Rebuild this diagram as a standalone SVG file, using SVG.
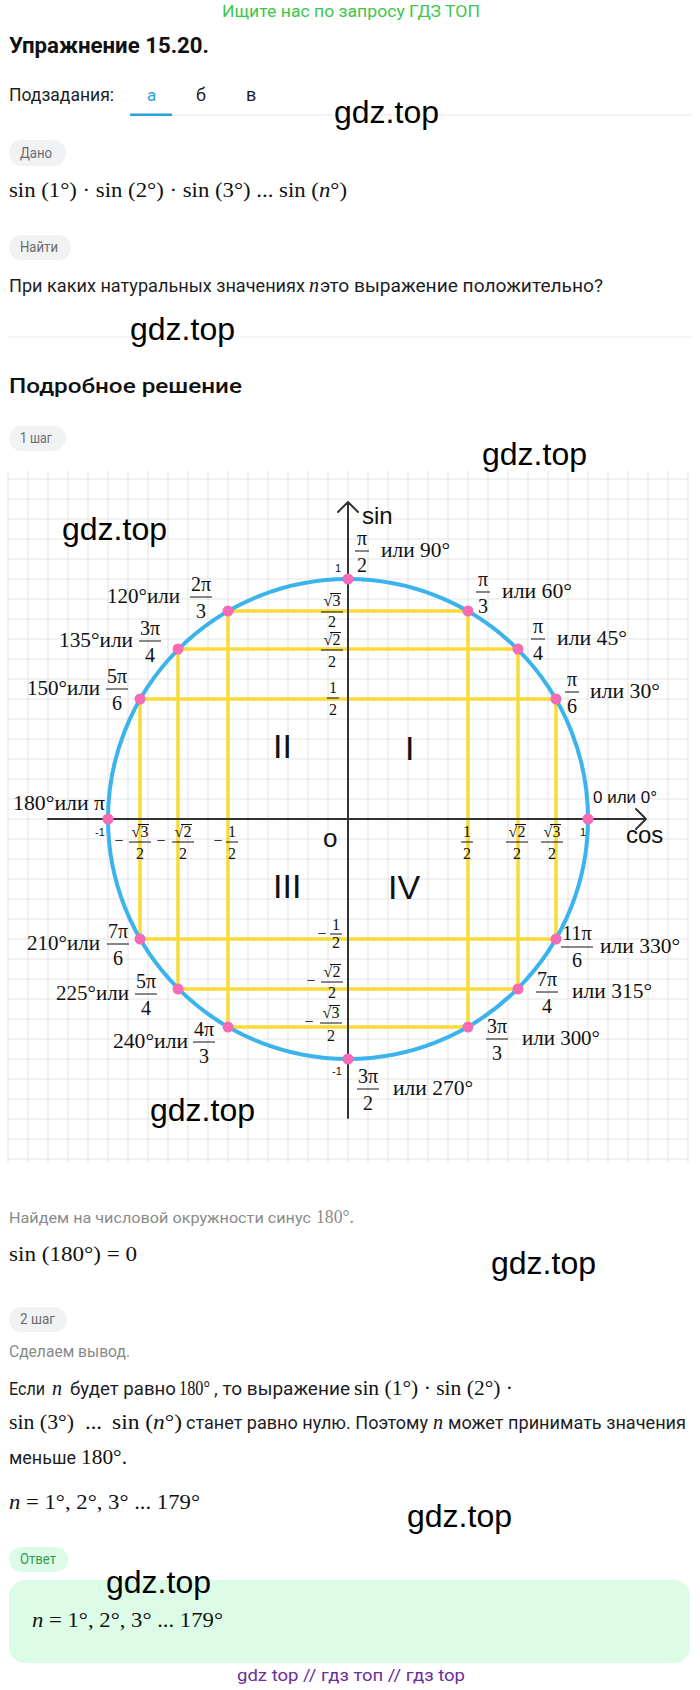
<svg xmlns="http://www.w3.org/2000/svg" width="700" height="1690" viewBox="0 0 700 1690">
<style>
.sans{font-family:Roboto,"Liberation Sans",sans-serif}
.m{font-family:"Liberation Serif","Times New Roman",serif;fill:#111}
.it{font-style:italic}
.txt{fill:#1d1d1f;font-size:18px}
.grey{fill:#8a8a8a;font-size:17px}
.pill{fill:#f1f2f4}
.pt{fill:#6b6b6b;font-size:14px}
.wm{font-family:"Liberation Sans",Arial,sans-serif;font-size:32px;fill:#000}
.grid{stroke:#e6e6e6;stroke-width:1.2;fill:none}
.ax{stroke:#333;stroke-width:2;fill:none;stroke-linecap:round;stroke-linejoin:round}
.yl{stroke:#f8da38;stroke-width:3.5;fill:none}
.dot{fill:#f46bb6}
.bar{stroke:#111;stroke-width:1}
.p20{font-size:20px}
.p16{font-size:16px}
.ls{font-family:"Liberation Sans",Arial,sans-serif;fill:#111}
.c{text-anchor:middle}
</style>

<g id="header">
<text class="sans" x="222" y="17" font-size="16" fill="#3dc74a" textLength="258" lengthAdjust="spacingAndGlyphs">Ищите нас по запросу ГДЗ ТОП</text>
<text class="sans" x="9" y="53" font-size="22" font-weight="700" fill="#111" textLength="200" lengthAdjust="spacingAndGlyphs">Упражнение 15.20.</text>
<text class="sans txt" x="9" y="101" font-size="17" textLength="105" lengthAdjust="spacingAndGlyphs">Подзадания:</text>
<text class="sans" x="147" y="101" font-size="17" fill="#2a9fd8">а</text>
<text class="sans txt" x="196" y="101" font-size="17">б</text>
<text class="sans txt" x="246" y="101" font-size="17">в</text>
<line x1="172" y1="115" x2="692" y2="115" stroke="#e8e8e8" stroke-width="1"/>
<rect x="130" y="113.5" width="42" height="2.5" fill="#2a9fd8"/>
</g>

<g id="given">
<rect class="pill" x="9" y="140" width="57" height="26" rx="13"/>
<text class="sans pt" x="20" y="158" textLength="32" lengthAdjust="spacingAndGlyphs">Дано</text>
<text class="m" x="9" y="197" font-size="21" textLength="338" lengthAdjust="spacingAndGlyphs">sin (1°) · sin (2°) · sin (3°)  ...  sin (<tspan class="it">n</tspan>°)</text>
</g>

<g id="find">
<rect class="pill" x="9" y="235" width="62" height="25" rx="12.5"/>
<text class="sans pt" x="20" y="252" textLength="38" lengthAdjust="spacingAndGlyphs">Найти</text>
<text class="sans txt" x="9" y="292" textLength="296" lengthAdjust="spacingAndGlyphs">При каких натуральных значениях</text>
<text class="m it" x="309" y="292" font-size="20">n</text>
<text class="sans txt" x="320" y="292" textLength="283" lengthAdjust="spacingAndGlyphs">это выражение положительно?</text>
<line x1="9" y1="337" x2="692" y2="337" stroke="#ececec" stroke-width="1"/>
</g>

<g id="solution-head">
<text class="sans" x="9" y="393" font-size="21" font-weight="500" fill="#111" textLength="233" lengthAdjust="spacingAndGlyphs">Подробное решение</text>
<rect class="pill" x="9" y="426" width="57" height="25" rx="12.5"/>
<text class="sans pt" x="20" y="443" textLength="32" lengthAdjust="spacingAndGlyphs">1 шаг</text>
</g>

<g id="grid">
<path class="grid" d="M8 471V1162M28 471V1162M48 471V1162M68 471V1162M88 471V1162M108 471V1162M128 471V1162M148 471V1162M168 471V1162M188 471V1162M208 471V1162M228 471V1162M248 471V1162M268 471V1162M288 471V1162M308 471V1162M328 471V1162M348 471V1162M368 471V1162M388 471V1162M408 471V1162M428 471V1162M448 471V1162M468 471V1162M488 471V1162M508 471V1162M528 471V1162M548 471V1162M568 471V1162M588 471V1162M608 471V1162M628 471V1162M648 471V1162M668 471V1162M688 471V1162M8 479H688M8 499H688M8 519H688M8 539H688M8 559H688M8 579H688M8 599H688M8 619H688M8 639H688M8 659H688M8 679H688M8 699H688M8 719H688M8 739H688M8 759H688M8 779H688M8 799H688M8 819H688M8 839H688M8 859H688M8 879H688M8 899H688M8 919H688M8 939H688M8 959H688M8 979H688M8 999H688M8 1019H688M8 1039H688M8 1059H688M8 1079H688M8 1099H688M8 1119H688M8 1139H688M8 1159H688"/>
</g>

<g id="connectors">
<path class="yl" d="M228 611H468M178 649H518M140 699H556M140 939H556M178 989H518M228 1027H468M140 699V939M178 649V989M228 611V1027M468 611V1027M518 649V989M556 699V939"/>
<path class="ax" d="M48 819H646M636 809L646 819L636 829M348 1118V502M338 512L348 502L358 512"/>
</g>

<g id="circle">
<circle cx="348" cy="819" r="240" fill="none" stroke="#3bb4ed" stroke-width="4"/>
<circle class="dot" cx="588" cy="819" r="5.5"/>
<circle class="dot" cx="556" cy="699" r="5.5"/>
<circle class="dot" cx="518" cy="649" r="5.5"/>
<circle class="dot" cx="468" cy="611" r="5.5"/>
<circle class="dot" cx="348" cy="579" r="5.5"/>
<circle class="dot" cx="228" cy="611" r="5.5"/>
<circle class="dot" cx="178" cy="649" r="5.5"/>
<circle class="dot" cx="140" cy="699" r="5.5"/>
<circle class="dot" cx="108" cy="819" r="5.5"/>
<circle class="dot" cx="140" cy="939" r="5.5"/>
<circle class="dot" cx="178" cy="989" r="5.5"/>
<circle class="dot" cx="228" cy="1027" r="5.5"/>
<circle class="dot" cx="348" cy="1059" r="5.5"/>
<circle class="dot" cx="468" cy="1027" r="5.5"/>
<circle class="dot" cx="518" cy="989" r="5.5"/>
<circle class="dot" cx="556" cy="939" r="5.5"/>
</g>

<g id="axis-labels">
<text class="ls" x="362" y="524" font-size="24">sin</text>
<text class="ls" x="626" y="843" font-size="24">cos</text>
<text class="ls" x="323" y="847" font-size="26">o</text>
<text class="ls" x="593" y="803" font-size="17">0 или 0°</text>
<text class="ls" x="335" y="572" font-size="11">1</text>
<text class="ls" x="95" y="836" font-size="11">-1</text>
<text class="ls" x="580" y="836" font-size="11">1</text>
<text class="ls" x="332" y="1075" font-size="11">-1</text>
<text class="ls" x="273" y="758" font-size="34">II</text>
<text class="ls" x="405" y="760" font-size="34">I</text>
<text class="ls" x="273" y="898" font-size="34">III</text>
<text class="ls" x="388" y="899" font-size="34">IV</text>
</g>

<g id="sin-values" class="m p16">
<text class="c" x="332" y="606">√3</text><line class="bar" x1="330" y1="593.5" x2="341" y2="593.5"/><line class="bar" x1="321" y1="612" x2="343" y2="612"/><text class="c" x="332" y="627">2</text>
<text class="c" x="332" y="645">√2</text><line class="bar" x1="330" y1="632.5" x2="341" y2="632.5"/><line class="bar" x1="321" y1="650" x2="343" y2="650"/><text class="c" x="332" y="667">2</text>
<text class="c" x="333" y="693">1</text><line class="bar" x1="327" y1="698" x2="339" y2="698"/><text class="c" x="333" y="715">2</text>
<text class="c" x="322" y="939">−</text><text class="c" x="336" y="930">1</text><line class="bar" x1="330" y1="934" x2="342" y2="934"/><text class="c" x="336" y="948">2</text>
<text class="c" x="311" y="986">−</text><text class="c" x="332" y="977">√2</text><line class="bar" x1="330" y1="964.5" x2="341" y2="964.5"/><line class="bar" x1="321" y1="982" x2="343" y2="982"/><text class="c" x="332" y="998">2</text>
<text class="c" x="309" y="1027">−</text><text class="c" x="331" y="1018">√3</text><line class="bar" x1="329" y1="1005.5" x2="340" y2="1005.5"/><line class="bar" x1="320" y1="1023" x2="342" y2="1023"/><text class="c" x="331" y="1041">2</text>
</g>

<g id="cos-values" class="m p16">
<text class="c" x="119" y="846">−</text><text class="c" x="140" y="837">√3</text><line class="bar" x1="138" y1="824.5" x2="149" y2="824.5"/><line class="bar" x1="129" y1="842" x2="151" y2="842"/><text class="c" x="140" y="859">2</text>
<text class="c" x="161" y="846">−</text><text class="c" x="183" y="837">√2</text><line class="bar" x1="181" y1="824.5" x2="192" y2="824.5"/><line class="bar" x1="172" y1="842" x2="194" y2="842"/><text class="c" x="183" y="859">2</text>
<text class="c" x="218" y="846">−</text><text class="c" x="232" y="837">1</text><line class="bar" x1="226" y1="842" x2="238" y2="842"/><text class="c" x="232" y="859">2</text>
<text class="c" x="467" y="837">1</text><line class="bar" x1="461" y1="842" x2="473" y2="842"/><text class="c" x="467" y="859">2</text>
<text class="c" x="517" y="837">√2</text><line class="bar" x1="515" y1="824.5" x2="526" y2="824.5"/><line class="bar" x1="506" y1="842" x2="528" y2="842"/><text class="c" x="517" y="859">2</text>
<text class="c" x="552" y="837">√3</text><line class="bar" x1="550" y1="824.5" x2="561" y2="824.5"/><line class="bar" x1="541" y1="842" x2="563" y2="842"/><text class="c" x="552" y="859">2</text>
</g>

<g id="angle-labels-left" class="m p20">
<text x="107" y="603" textLength="73" lengthAdjust="spacingAndGlyphs">120°или</text>
<text class="c" x="201" y="591">2π</text><line class="bar" x1="190" y1="597" x2="212" y2="597"/><text class="c" x="201" y="618">3</text>
<text x="59" y="647" textLength="74" lengthAdjust="spacingAndGlyphs">135°или</text>
<text class="c" x="150" y="635">3π</text><line class="bar" x1="139" y1="641" x2="161" y2="641"/><text class="c" x="150" y="662">4</text>
<text x="27" y="695" textLength="73" lengthAdjust="spacingAndGlyphs">150°или</text>
<text class="c" x="117" y="683">5π</text><line class="bar" x1="106" y1="689" x2="128" y2="689"/><text class="c" x="117" y="710">6</text>
<text x="13" y="810" textLength="92" lengthAdjust="spacingAndGlyphs">180°или π</text>
<text x="27" y="950" textLength="73" lengthAdjust="spacingAndGlyphs">210°или</text>
<text class="c" x="118" y="938">7π</text><line class="bar" x1="107" y1="944" x2="129" y2="944"/><text class="c" x="118" y="965">6</text>
<text x="56" y="1000" textLength="73" lengthAdjust="spacingAndGlyphs">225°или</text>
<text class="c" x="146" y="988">5π</text><line class="bar" x1="135" y1="994" x2="157" y2="994"/><text class="c" x="146" y="1015">4</text>
<text x="113" y="1048" textLength="75" lengthAdjust="spacingAndGlyphs">240°или</text>
<text class="c" x="204" y="1036">4π</text><line class="bar" x1="193" y1="1042" x2="215" y2="1042"/><text class="c" x="204" y="1063">3</text>
</g>

<g id="angle-labels-right" class="m p20">
<text class="c" x="362" y="545">π</text><line class="bar" x1="355" y1="551" x2="369" y2="551"/><text class="c" x="362" y="572">2</text>
<text x="381" y="557" textLength="69" lengthAdjust="spacingAndGlyphs">или 90°</text>
<text class="c" x="483" y="586">π</text><line class="bar" x1="476" y1="592" x2="490" y2="592"/><text class="c" x="483" y="613">3</text>
<text x="502" y="598" textLength="70" lengthAdjust="spacingAndGlyphs">или 60°</text>
<text class="c" x="538" y="633">π</text><line class="bar" x1="531" y1="639" x2="545" y2="639"/><text class="c" x="538" y="660">4</text>
<text x="557" y="645" textLength="70" lengthAdjust="spacingAndGlyphs">или 45°</text>
<text class="c" x="572" y="686">π</text><line class="bar" x1="565" y1="692" x2="579" y2="692"/><text class="c" x="572" y="713">6</text>
<text x="590" y="698" textLength="70" lengthAdjust="spacingAndGlyphs">или 30°</text>
<text class="c" x="577" y="940">11π</text><line class="bar" x1="561" y1="947" x2="593" y2="947"/><text class="c" x="577" y="967">6</text>
<text x="600" y="953" textLength="80" lengthAdjust="spacingAndGlyphs">или 330°</text>
<text class="c" x="547" y="986">7π</text><line class="bar" x1="536" y1="992" x2="558" y2="992"/><text class="c" x="547" y="1013">4</text>
<text x="572" y="998" textLength="80" lengthAdjust="spacingAndGlyphs">или 315°</text>
<text class="c" x="497" y="1033">3π</text><line class="bar" x1="486" y1="1039" x2="508" y2="1039"/><text class="c" x="497" y="1060">3</text>
<text x="522" y="1045" textLength="78" lengthAdjust="spacingAndGlyphs">или 300°</text>
<text class="c" x="368" y="1083">3π</text><line class="bar" x1="357" y1="1089" x2="379" y2="1089"/><text class="c" x="368" y="1110">2</text>
<text x="393" y="1095" textLength="80" lengthAdjust="spacingAndGlyphs">или 270°</text>
</g>

<g id="step1-text">
<text class="sans" x="9" y="1223" font-size="15.5" fill="#8a8a8a" textLength="302" lengthAdjust="spacingAndGlyphs">Найдем на числовой окружности синус</text>
<text class="m" x="316" y="1223" font-size="19" style="fill:#8a8a8a" textLength="38" lengthAdjust="spacingAndGlyphs">180°.</text>
<text class="m" x="9" y="1261" font-size="21" textLength="128" lengthAdjust="spacingAndGlyphs">sin (180°) = 0</text>
</g>

<g id="step2">
<rect class="pill" x="9" y="1307" width="58" height="25" rx="12.5"/>
<text class="sans pt" x="20" y="1324" textLength="35" lengthAdjust="spacingAndGlyphs">2 шаг</text>
<text class="sans grey" x="9" y="1357" textLength="121" lengthAdjust="spacingAndGlyphs">Сделаем вывод.</text>
<text class="sans txt" x="9" y="1395" textLength="36" lengthAdjust="spacingAndGlyphs">Если</text>
<text class="m it" x="52" y="1395" font-size="20">n</text>
<text class="sans txt" x="70" y="1395" textLength="106" lengthAdjust="spacingAndGlyphs">будет равно</text>
<text class="m" x="179" y="1395" font-size="20" textLength="31" lengthAdjust="spacingAndGlyphs">180°</text>
<text class="sans txt" x="214" y="1395" textLength="136" lengthAdjust="spacingAndGlyphs">, то выражение</text>
<text class="m" x="354" y="1395" font-size="20" textLength="159" lengthAdjust="spacingAndGlyphs">sin (1°) · sin (2°) ·</text>
<text class="m" x="9" y="1429" font-size="20" textLength="65" lengthAdjust="spacingAndGlyphs">sin (3°)</text>
<text class="m" x="85" y="1429" font-size="20" textLength="17" lengthAdjust="spacingAndGlyphs">...</text>
<text class="m" x="112" y="1429" font-size="20" textLength="70" lengthAdjust="spacingAndGlyphs">sin (<tspan class="it">n</tspan>°)</text>
<text class="sans txt" x="186" y="1429" textLength="242" lengthAdjust="spacingAndGlyphs">станет равно нулю. Поэтому</text>
<text class="m it" x="433" y="1429" font-size="20">n</text>
<text class="sans txt" x="448" y="1429" textLength="238" lengthAdjust="spacingAndGlyphs">может принимать значения</text>
<text class="sans txt" x="9" y="1464" textLength="67" lengthAdjust="spacingAndGlyphs">меньше</text>
<text class="m" x="81" y="1464" font-size="20" textLength="46" lengthAdjust="spacingAndGlyphs">180°.</text>
<text class="m" x="9" y="1509" font-size="21" textLength="191" lengthAdjust="spacingAndGlyphs"><tspan class="it">n</tspan> = 1°, 2°, 3° ... 179°</text>
</g>

<g id="answer">
<rect x="9" y="1547" width="59" height="25" rx="12.5" fill="#dcfce7"/>
<text class="sans" x="20" y="1564" font-size="14" fill="#2f9e4f" textLength="36" lengthAdjust="spacingAndGlyphs">Ответ</text>
<rect x="9" y="1580" width="681" height="83" rx="16" fill="#dcfce7"/>
<text class="m" x="32" y="1627" font-size="21" textLength="191" lengthAdjust="spacingAndGlyphs"><tspan class="it">n</tspan> = 1°, 2°, 3° ... 179°</text>
</g>

<g id="watermarks">
<text class="wm" x="334" y="123">gdz.top</text>
<text class="wm" x="130" y="340">gdz.top</text>
<text class="wm" x="482" y="465">gdz.top</text>
<text class="wm" x="62" y="540">gdz.top</text>
<text class="wm" x="150" y="1121">gdz.top</text>
<text class="wm" x="491" y="1274">gdz.top</text>
<text class="wm" x="407" y="1527">gdz.top</text>
<text class="wm" x="106" y="1593">gdz.top</text>
</g>

<g id="footer">
<text class="sans" x="237" y="1681" font-size="17" fill="#6b2e9a" textLength="228" lengthAdjust="spacingAndGlyphs">gdz top  //  гдз топ  //  гдз top</text>
</g>
</svg>
